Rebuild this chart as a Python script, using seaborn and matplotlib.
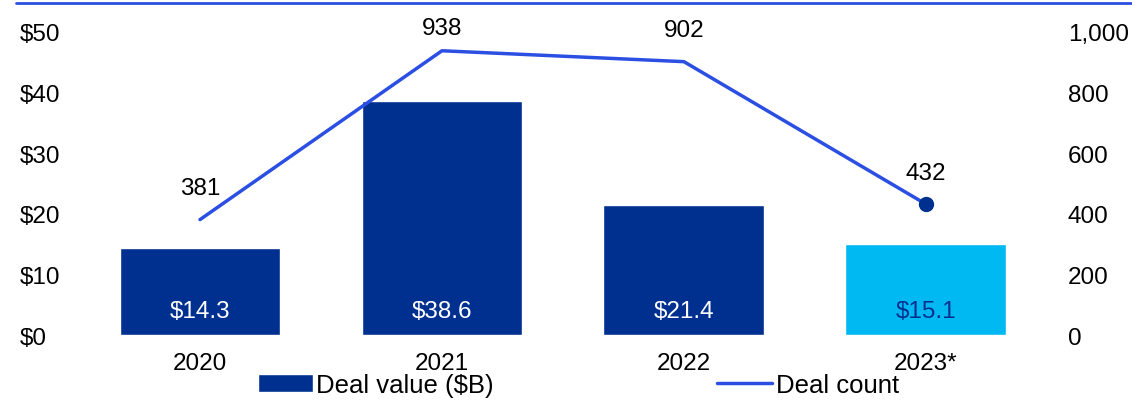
import matplotlib
matplotlib.use("Agg")
import matplotlib.pyplot as plt
import seaborn as sns
from matplotlib.patches import Patch
from matplotlib.lines import Line2D

years = ["2020", "2021", "2022", "2023*"]
deal_value = [14.3, 38.6, 21.4, 15.1]
deal_count = [381, 938, 902, 432]

navy = "#00308f"
cyan = "#00b9f2"
line_blue = "#2b4fe3"
bar_colors = [navy, navy, navy, cyan]
label_colors = ["white", "white", "white", navy]

sns.set_theme(style="white")
plt.rcParams["font.family"] = ["Liberation Sans", "DejaVu Sans"]
plt.rcParams["text.color"] = "black"
fs = 17.5

fig = plt.figure(figsize=(11.32, 4.02), dpi=100)
ax = fig.add_axes([0.0698, 0.164, 0.855, 0.754])

sns.barplot(x=years, y=deal_value, hue=years, palette=bar_colors,
            legend=False, width=0.665, saturation=1, ax=ax)
ax.set_ylim(0, 50)
ax.set_xlim(-0.5, 3.5)
ax.set_yticks(range(0, 51, 10))
ax.set_yticklabels([f"${v}" for v in range(0, 51, 10)])
for lab in ax.get_yticklabels():
    lab.set_horizontalalignment("left")
ax.tick_params(axis="y", length=0, pad=42.5, labelsize=fs, colors="black")
ax.tick_params(axis="x", length=0, pad=12, labelsize=fs, colors="black")
ax.set_xlabel("")
ax.set_ylabel("")
for i, v in enumerate(deal_value):
    ax.text(i, 4.0, f"${v}", ha="center", va="center", fontsize=fs,
            color=label_colors[i])

ax2 = ax.twinx()
sns.lineplot(x=list(range(len(years))), y=deal_count, color=line_blue,
             linewidth=2.5, ax=ax2)
ax2.plot([len(years) - 1], [deal_count[-1]], "o", color=navy, markersize=10)
ax2.set_ylim(0, 1000)
ax2.set_yticks(range(0, 1001, 200))
ax2.set_yticklabels([f"{v:,}" for v in range(0, 1001, 200)])
ax2.tick_params(axis="y", length=0, pad=15, labelsize=fs, colors="black")
for i, v in enumerate(deal_count):
    ax2.text(i, min(v + 103, 1013), f"{v}", ha="center", va="center",
             fontsize=fs, color="black")

for a in (ax, ax2):
    for s in a.spines.values():
        s.set_visible(False)

# thin rule across the top
fig.add_artist(Line2D([16 / 1132, 1], [0.99, 0.99], color=line_blue,
                      linewidth=2, transform=fig.transFigure))

handles = [Patch(facecolor=navy, label="Deal value ($B)"),
           Line2D([], [], color=line_blue, linewidth=2.5, label="Deal count")]
fig.legend(handles=handles, loc="center", bbox_to_anchor=(0.511, 0.04), ncol=2,
           frameon=False, fontsize=18.5, handlelength=2.14, handleheight=0.68,
           handletextpad=0.12, columnspacing=8.7, labelcolor="black")

fig.savefig("out.png", dpi=100)
